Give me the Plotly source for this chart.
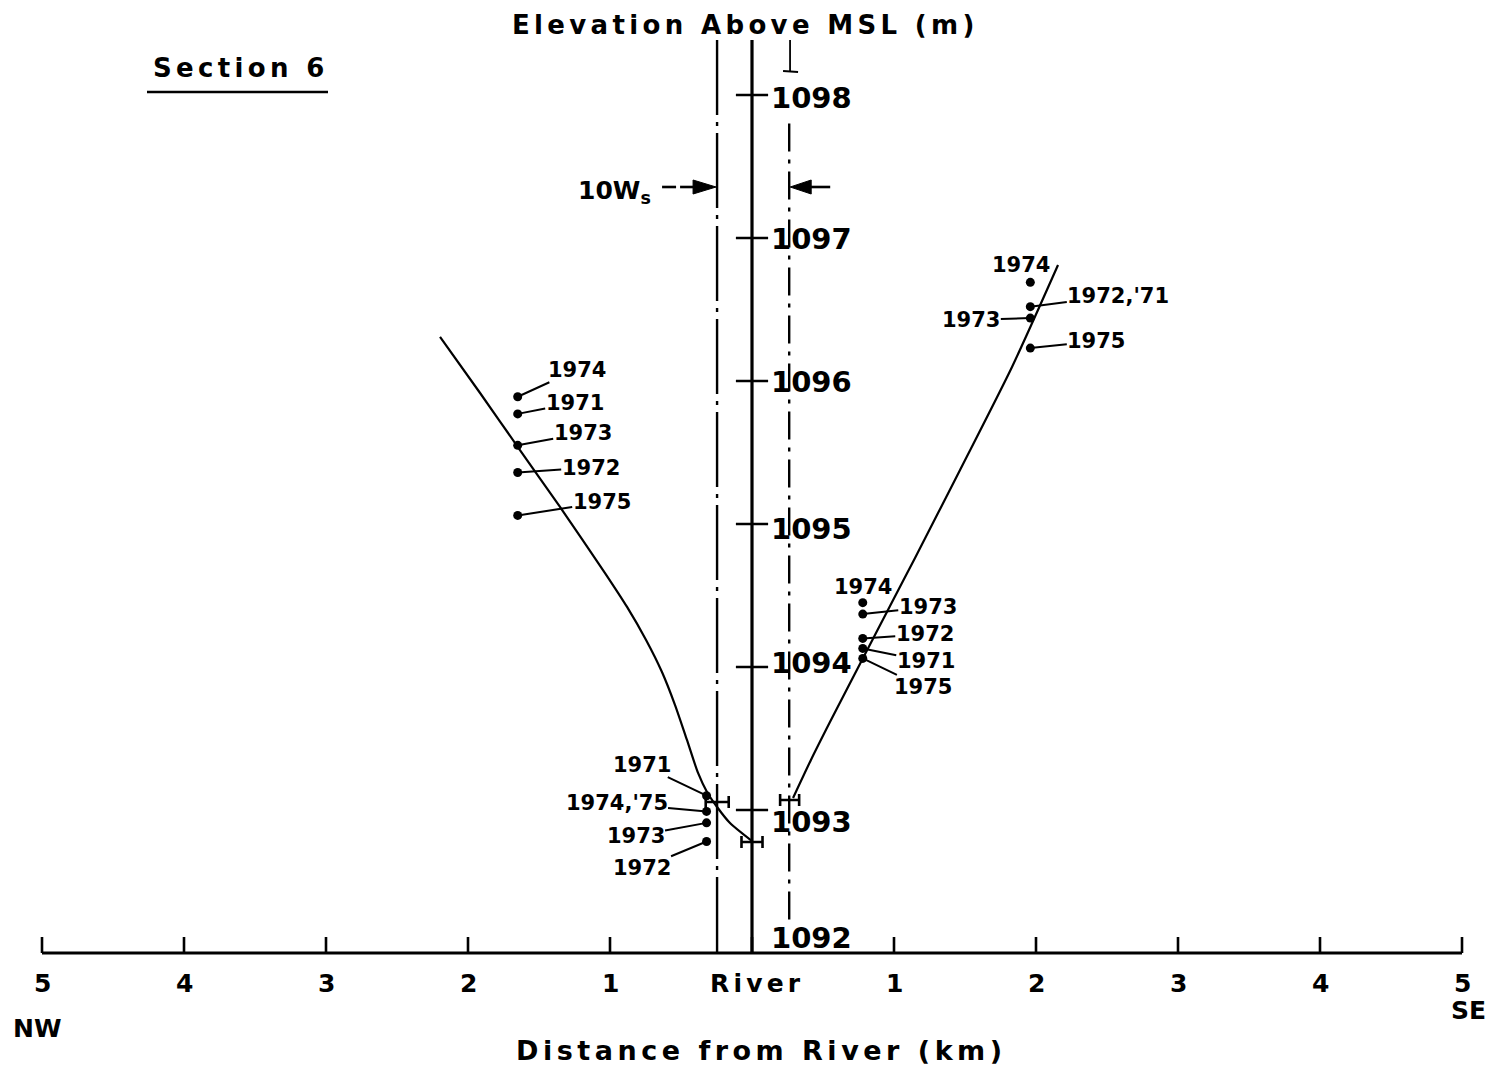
import plotly.graph_objects as go

# ------------------------------------------------------------------ data
# distance from river in km (NW negative, SE positive), elevation in m above MSL
x_tick_vals = [-5, -4, -3, -2, -1, 0, 1, 2, 3, 4, 5]
x_tick_text = ["5", "4", "3", "2", "1", "River", "1", "2", "3", "4", "5"]
y_tick_vals = [1092, 1093, 1094, 1095, 1096, 1097, 1098]

river_km = 0.0
band_left_km = -0.246          # 10 W_s band edges
band_right_km = 0.262
line_top_elev = 1098.385
band_right_top_elev = 1097.80
band_right_bottom_elev = 1092.23

# water-table profile curve
curve_nw_km = [-2.197, -1.915, -1.634, -1.352, -1.035, -0.880, -0.746, -0.634, -0.542,
               -0.458, -0.380, -0.317, -0.246, -0.155, 0.0]
curve_nw_elev = [1096.308, 1095.916, 1095.517, 1095.119, 1094.657, 1094.420, 1094.189, 1093.965,
                 1093.734, 1093.490, 1093.259, 1093.126, 1093.021, 1092.909, 1092.783]
curve_se_km = [0.289, 0.415, 0.549, 0.782, 0.972, 1.148, 1.465, 1.831, 2.155]
curve_se_elev = [1093.084, 1093.350, 1093.615, 1094.063, 1094.427, 1094.762, 1095.378,
                 1096.098, 1096.811]

# observation wells
nw_far_km = -1.65
nw_far_years = ["1974", "1971", "1973", "1972", "1975"]
nw_far_elev = [1095.89, 1095.77, 1095.55, 1095.36, 1095.06]

nw_near_km = -0.32
nw_near_years = ["1971", "1974,'75", "1973", "1972"]
nw_near_elev = [1093.10, 1092.99, 1092.91, 1092.78]

se_near_km = 0.78
se_near_years = ["1974", "1973", "1972", "1971", "1975"]
se_near_elev = [1094.45, 1094.37, 1094.20, 1094.13, 1094.06]

se_far_km = 1.96
se_far_years = ["1974", "1972,'71", "1973", "1975"]
se_far_elev = [1096.69, 1096.52, 1096.44, 1096.23]

# river-stage range bars
bar_km = [-0.245, 0.0, 0.265]
bar_elev = [1093.056, 1092.776, 1093.07]
bar_half_km = [0.081, 0.074, 0.067]

# ------------------------------------------------------------------ layout geometry
W, H = 1497, 1068
PX_PER_KM = 142.0
PX_PER_M = 143.0
RIVER_PX = 752.0
BASE_PX = 953.0
BASE_ELEV = 1092

X0 = -RIVER_PX / PX_PER_KM
X1 = (W - RIVER_PX) / PX_PER_KM
Y0 = BASE_ELEV - (H - BASE_PX) / PX_PER_M
Y1 = BASE_ELEV + BASE_PX / PX_PER_M


def elev_of_px(py):
    return BASE_ELEV + (BASE_PX - py) / PX_PER_M


def paper(xp, yp):
    return xp / W, 1 - yp / H


def spaced(s, gap="\u2006"):
    return gap.join(s)


FONT = "DejaVu Sans"
INK = "black"

fig = go.Figure()

# curves
for xs, ys in [(curve_nw_km, curve_nw_elev), (curve_se_km, curve_se_elev)]:
    fig.add_trace(go.Scatter(x=xs, y=ys, mode="lines",
                             line=dict(color=INK, width=2.2, shape="spline", smoothing=0.7),
                             hoverinfo="skip"))

# river centre line
fig.add_trace(go.Scatter(x=[river_km, river_km], y=[BASE_ELEV, line_top_elev], mode="lines",
                         line=dict(color=INK, width=3.2), hoverinfo="skip"))
# band edges (dash-dot)
fig.add_trace(go.Scatter(x=[band_left_km, band_left_km], y=[line_top_elev, BASE_ELEV], mode="lines",
                         line=dict(color=INK, width=2.4, dash="75px,7px,4px,7px"), hoverinfo="skip"))
fig.add_trace(go.Scatter(x=[band_right_km, band_right_km], y=[band_right_top_elev, band_right_bottom_elev],
                         mode="lines",
                         line=dict(color=INK, width=2.4, dash="28px,8px,4px,8px"), hoverinfo="skip"))

# horizontal distance axis
fig.add_trace(go.Scatter(x=[x_tick_vals[0], x_tick_vals[-1]], y=[BASE_ELEV, BASE_ELEV], mode="lines",
                         line=dict(color=INK, width=3), hoverinfo="skip"))
tick_len_m = 16 / PX_PER_M
tx, ty = [], []
for v in x_tick_vals:
    tx += [v, v, None]
    ty += [BASE_ELEV, BASE_ELEV + tick_len_m, None]
fig.add_trace(go.Scatter(x=tx, y=ty, mode="lines", line=dict(color=INK, width=2.6), hoverinfo="skip"))

# elevation tick crosses on the river line
fig.add_trace(go.Scatter(x=[river_km] * (len(y_tick_vals) - 1), y=y_tick_vals[1:], mode="markers",
                         marker=dict(symbol="line-ew", size=23, line=dict(color=INK, width=2.6)),
                         hoverinfo="skip"))

# range bars
fig.add_trace(go.Scatter(x=bar_km, y=bar_elev, mode="markers",
                         marker=dict(size=1, color="rgba(0,0,0,0)"),
                         error_x=dict(type="data", array=bar_half_km, symmetric=True,
                                      width=6, thickness=2.6, color=INK),
                         hoverinfo="skip"))

# well dots
for km, elevs in [(nw_far_km, nw_far_elev), (nw_near_km, nw_near_elev),
                  (se_near_km, se_near_elev), (se_far_km, se_far_elev)]:
    fig.add_trace(go.Scatter(x=[km] * len(elevs), y=elevs, mode="markers",
                             marker=dict(size=9, color=INK), hoverinfo="skip"))

annotations = []

# year labels with leader lines: (text-centre offset in px, leader on/off)
label_offsets = {
    "nw_far": [(59, -27, True), (57, -11, True), (65, -12, True), (73, -5, True), (84, -13, True)],
    "nw_near": [(-65, -31, True), (-90, -8, True), (-71, 13, True), (-65, 27, True)],
    "se_near": [(0, -16, False), (65, -7, True), (62, -4, True), (63, 13, True), (60, 29, True)],
    "se_far": [(-9, -17, False), (88, -11, True), (-59, 2, True), (66, -7, True)],
}
groups = {
    "nw_far": (nw_far_km, nw_far_years, nw_far_elev),
    "nw_near": (nw_near_km, nw_near_years, nw_near_elev),
    "se_near": (se_near_km, se_near_years, se_near_elev),
    "se_far": (se_far_km, se_far_years, se_far_elev),
}
year_font = dict(family=FONT, size=21, color=INK, weight="bold")
for key, (km, years, elevs) in groups.items():
    for (dx, dy, leader), yr, ev in zip(label_offsets[key], years, elevs):
        if leader:
            annotations.append(dict(x=km, y=ev, xref="x", yref="y", text=yr, font=year_font,
                                    showarrow=True, ax=dx, ay=dy, arrowhead=0, arrowwidth=2,
                                    arrowcolor=INK, standoff=0, borderpad=0))
        else:
            annotations.append(dict(x=km, y=ev, xref="x", yref="y", text=yr, font=year_font,
                                    showarrow=False, xshift=dx, yshift=-dy))

# x tick labels
for v, t in zip(x_tick_vals, x_tick_text):
    annotations.append(dict(x=v, y=BASE_ELEV, xref="x", yref="y",
                            text=spaced(t) if len(t) > 1 else t,
                            font=dict(family=FONT, size=25, color=INK, weight="bold"),
                            showarrow=False, yshift=-30, xshift=3 if t == "River" else 0))

# y tick labels
y_nudge = {1092: 15, 1093: -12, 1094: 4, 1095: -5, 1096: -1, 1097: -1, 1098: -3}
for v in y_tick_vals:
    annotations.append(dict(x=river_km, y=v, xref="x", yref="y", text=str(v),
                            font=dict(family=FONT, size=29, color=INK, weight="bold"),
                            showarrow=False, xanchor="left", xshift=17, yshift=y_nudge[v]))

# titles / direction labels
def text_at(xp, yp, txt, size, **kw):
    px_, py_ = paper(xp, yp)
    d = dict(x=px_, y=py_, xref="paper", yref="paper", text=txt, showarrow=False,
             font=dict(family=FONT, size=size, color=INK, weight="bold"),
             xanchor="center", yanchor="middle")
    d.update(kw)
    return d

annotations.append(text_at(743, 25, spaced("Elevation Above MSL (m)"), 26))
annotations.append(text_at(238, 68, spaced("Section 6"), 26))
annotations.append(text_at(759, 1050, spaced("Distance from River (km)"), 27))
annotations.append(text_at(37, 1028, "NW", 25))
annotations.append(text_at(1468, 1010, "SE", 25))
annotations.append(text_at(576, 192, "10W<sub>s</sub>", 25, xanchor="left"))

shapes = []
ux0, uy = paper(147, 92)
ux1, _ = paper(328, 92)
shapes.append(dict(type="line", xref="paper", yref="paper", x0=ux0, x1=ux1, y0=uy, y1=uy,
                   line=dict(color=INK, width=2.6)))
# small foot mark at top of right band edge
shapes.append(dict(type="line", xref="x", yref="y", xsizemode="pixel", xanchor=band_right_km + 0.006,
                   x0=0, x1=0, y0=line_top_elev, y1=elev_of_px(71), line=dict(color=INK, width=1.8)))
shapes.append(dict(type="line", xref="x", yref="y", xsizemode="pixel", xanchor=band_right_km + 0.006,
                   x0=-7, x1=8, y0=elev_of_px(71), y1=elev_of_px(72), line=dict(color=INK, width=1.8)))

# 10 W_s arrows pointing at the band edges
arrow_elev = elev_of_px(187)
pix = dict(xref="x", yref="y", xsizemode="pixel", ysizemode="pixel", yanchor=arrow_elev)
# left arrow: dashed shaft + filled head
shapes.append(dict(type="line", xanchor=band_left_km, x0=-55, x1=-41, y0=0, y1=0,
                   line=dict(color=INK, width=2.6), **pix))
shapes.append(dict(type="line", xanchor=band_left_km, x0=-37, x1=-20, y0=0, y1=0,
                   line=dict(color=INK, width=2.6), **pix))
shapes.append(dict(type="path", xanchor=band_left_km, path="M -1,0 L -24,7 L -24,-7 Z",
                   fillcolor=INK, line=dict(color=INK, width=1), **pix))
# right arrow
shapes.append(dict(type="line", xanchor=band_right_km, x0=20, x1=41, y0=0, y1=0,
                   line=dict(color=INK, width=2.6), **pix))
shapes.append(dict(type="path", xanchor=band_right_km, path="M 1,0 L 22,7 L 22,-7 Z",
                   fillcolor=INK, line=dict(color=INK, width=1), **pix))

fig.update_layout(
    width=W, height=H,
    margin=dict(l=0, r=0, t=0, b=0),
    paper_bgcolor="white", plot_bgcolor="white",
    showlegend=False,
    xaxis=dict(range=[X0, X1], visible=False, fixedrange=True),
    yaxis=dict(range=[Y0, Y1], visible=False, fixedrange=True),
    annotations=annotations,
    shapes=shapes,
)

fig.write_html("out.html")
